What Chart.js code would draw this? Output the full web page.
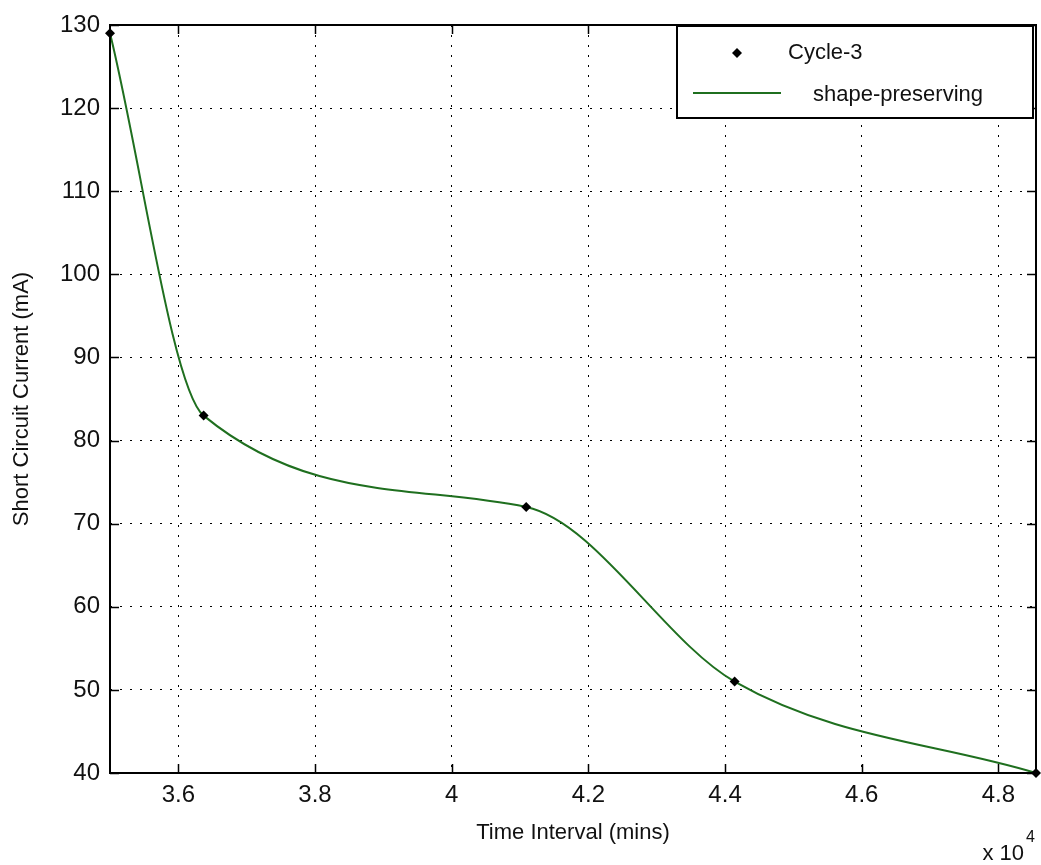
<!DOCTYPE html>
<html>
<head>
<meta charset="utf-8">
<script src="https://cdn.jsdelivr.net/npm/chart.js@4.4.1/dist/chart.umd.min.js"></script>
<style>
html, body { margin:0; padding:0; background:#fff; }
canvas { display:block; }
</style>
</head>
<body>
<canvas id="cycleChart" width="1041" height="865"></canvas>
<script>
// data
const timeMins = [35000, 36370, 41090, 44140, 48550];
const currentMA = [129, 83, 72, 51, 40];
const xTicks = [36000, 38000, 40000, 42000, 44000, 46000, 48000];
const xTickLabels = ['3.6', '3.8', '4', '4.2', '4.4', '4.6', '4.8'];
const yTicks = [40, 50, 60, 70, 80, 90, 100, 110, 120, 130];
const seriesLabels = ['Cycle-3', 'shape-preserving'];

const FONT = '"Liberation Sans", Arial, sans-serif';
const lineGreen = '#1f6f1f';

const points = timeMins.map((t, i) => ({ x: t, y: currentMA[i] }));

// box, inward ticks, legend inside plot, x10^4 exponent
const matlabFrame = {
  id: 'matlabFrame',
  afterDraw(chart) {
    const c = chart.ctx;
    const a = chart.chartArea;
    const xs = chart.scales.x;
    const ys = chart.scales.y;
    c.save();
    c.strokeStyle = '#000';
    c.lineWidth = 2;
    c.strokeRect(a.left, a.top, a.right - a.left, a.bottom - a.top);

    const tl = 9;
    c.lineWidth = 1.5;
    c.beginPath();
    xs.ticks.forEach(t => {
      const px = Math.round(xs.getPixelForValue(t.value)) + 0.5;
      c.moveTo(px, a.bottom); c.lineTo(px, a.bottom - tl);
      c.moveTo(px, a.top); c.lineTo(px, a.top + tl);
    });
    ys.ticks.forEach(t => {
      const py = Math.round(ys.getPixelForValue(t.value)) + 0.5;
      c.moveTo(a.left, py); c.lineTo(a.left + tl, py);
      c.moveTo(a.right, py); c.lineTo(a.right - tl, py);
    });
    c.stroke();

    // legend
    const lw = 356, lh = 92;
    const lx = a.right - 3 - lw;
    const ly = a.top + 1;
    c.fillStyle = '#fff';
    c.fillRect(lx, ly, lw, lh);
    c.lineWidth = 2;
    c.strokeRect(lx, ly, lw, lh);

    const mx = lx + 60, my = ly + 27;
    c.fillStyle = '#000';
    c.beginPath();
    c.moveTo(mx, my - 5); c.lineTo(mx + 5, my); c.lineTo(mx, my + 5); c.lineTo(mx - 5, my);
    c.closePath();
    c.fill();

    c.strokeStyle = lineGreen;
    c.lineWidth = 2;
    c.beginPath();
    c.moveTo(lx + 16, ly + 67); c.lineTo(lx + 104, ly + 67);
    c.stroke();

    c.fillStyle = '#111';
    c.font = '22px ' + FONT;
    c.textBaseline = 'middle';
    c.textAlign = 'left';
    c.fillText(seriesLabels[0], lx + 111, my);
    c.fillText(seriesLabels[1], lx + 136, ly + 69);

    // exponent under the x axis
    c.textAlign = 'right';
    c.textBaseline = 'alphabetic';
    c.fillText('x 10', 1024, 860);
    c.font = '16px ' + FONT;
    c.textAlign = 'left';
    c.fillText('4', 1026, 842);
    c.restore();
  }
};

const ctx1 = document.getElementById('cycleChart');
const cycleChart = new Chart(ctx1, {
  type: 'line',
  data: {
    datasets: [{
      label: seriesLabels[0],
      data: points,
      showLine: false,
      pointStyle: 'rectRot',
      pointRadius: 5,
      pointBackgroundColor: '#000',
      pointBorderColor: '#000',
      pointBorderWidth: 0,
      clip: false
    },
    {
      label: seriesLabels[1],
      data: points,
      borderColor: lineGreen,
      borderWidth: 2,
      cubicInterpolationMode: 'monotone',
      pointRadius: 0,
      fill: false,
      clip: false
    }]
  },
  options: {
    responsive: false,
    animation: false,
    layout: {
      padding: { top: 25, right: 5, left: 0, bottom: 0 }
    },
    plugins: {
      legend: { display: false },
      tooltip: { enabled: false }
    },
    scales: {
      x: {
        type: 'linear',
        min: timeMins[0],
        max: timeMins[timeMins.length - 1],
        afterBuildTicks: s => { s.ticks = xTicks.map(v => ({ value: v })); },
        afterFit: s => { s.height = 92; },
        ticks: {
          color: '#111',
          font: { family: FONT, size: 24 },
          padding: 8,
          maxRotation: 0,
          autoSkip: false,
          callback: (v) => xTickLabels[xTicks.indexOf(v)]
        },
        grid: { color: '#000', lineWidth: 1, drawTicks: false, borderDash: [2, 8] },
        border: { display: false, dash: [2, 8] },
        title: {
          display: true,
          text: 'Time Interval (mins)',
          color: '#111',
          font: { family: FONT, size: 22 },
          padding: { top: 0, bottom: 19 }
        }
      },
      y: {
        min: 40,
        max: 130,
        afterBuildTicks: s => { s.ticks = yTicks.map(v => ({ value: v })); },
        afterFit: s => { s.width = 110; },
        ticks: {
          color: '#111',
          font: { family: FONT, size: 24 },
          padding: 10,
          autoSkip: false
        },
        grid: { color: '#000', lineWidth: 1, drawTicks: false, borderDash: [2, 8] },
        border: { display: false, dash: [2, 8] },
        title: {
          display: true,
          text: 'Short Circuit Current (mA)',
          color: '#111',
          font: { family: FONT, size: 22 },
          padding: { top: 9, bottom: 0 }
        }
      }
    }
  },
  plugins: [matlabFrame]
});
</script>
</body>
</html>
